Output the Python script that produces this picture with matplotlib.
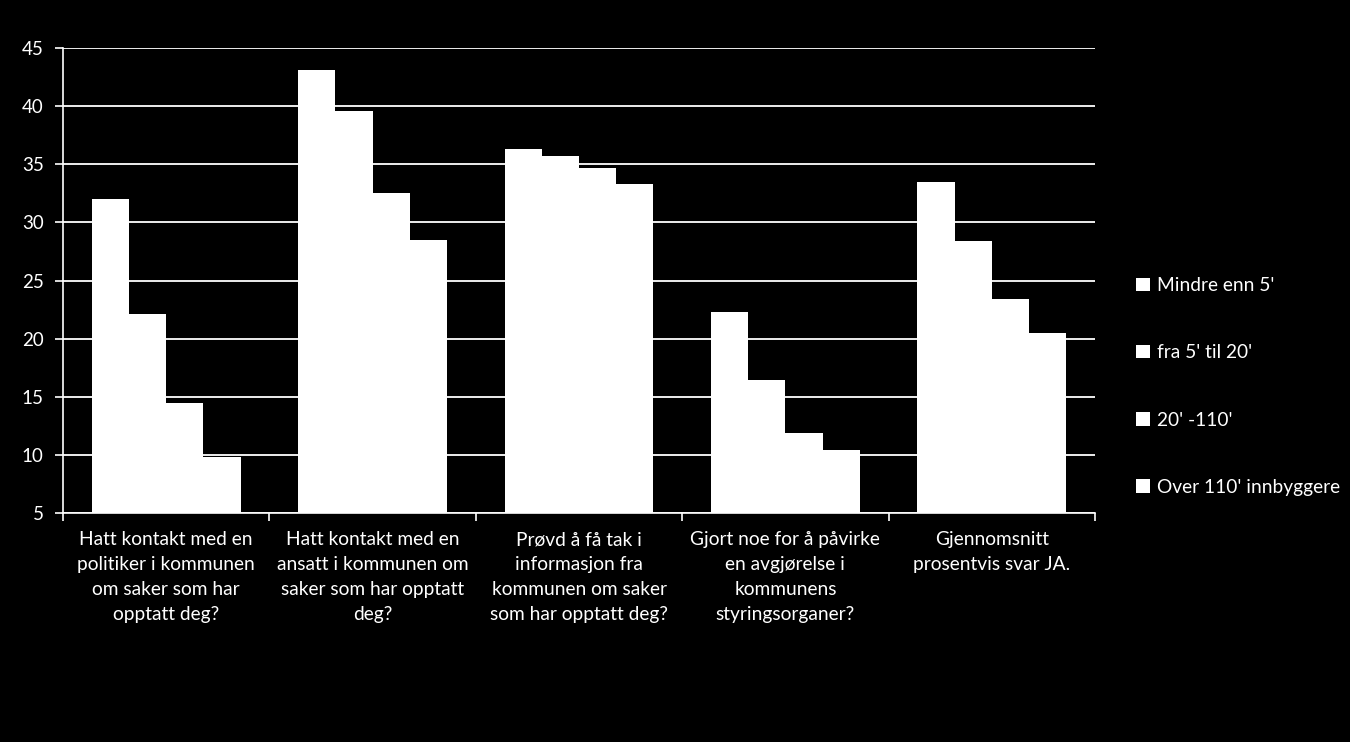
import numpy as np
import matplotlib
matplotlib.use("Agg")
import matplotlib.pyplot as plt
from matplotlib.patches import Patch

# data
categories = [
    "Hatt kontakt med en\npolitiker i kommunen\nom saker som har\nopptatt deg?",
    "Hatt kontakt med en\nansatt i kommunen om\nsaker som har opptatt\ndeg?",
    "Prøvd å få tak i\ninformasjon fra\nkommunen om saker\nsom har opptatt deg?",
    "Gjort noe for å påvirke\nen avgjørelse i\nkommunens\nstyringsorganer?",
    "Gjennomsnitt\nprosentvis svar JA.",
]
series_names = ["Mindre enn 5'", "fra 5' til 20'", "20' -110'", "Over 110' innbyggere"]
mindre_5 = [32.0, 43.1, 36.3, 22.3, 33.5]
fra_5_20 = [22.1, 39.6, 35.7, 16.4, 28.4]
fra_20_110 = [14.5, 32.5, 34.7, 11.9, 23.4]
over_110 = [9.8, 28.5, 33.3, 10.4, 20.5]
yticks = [5, 10, 15, 20, 25, 30, 35, 40, 45]

plt.rcParams['font.family'] = ['Lato', 'DejaVu Sans']

fig = plt.figure(figsize=(13.5, 7.42), dpi=100, facecolor="black")
ax = fig.add_axes([0.0467, 0.3086, 0.7644, 0.6267])
ax.set_facecolor("black")

x = np.arange(len(categories))
w = 0.18
alle = [mindre_5, fra_5_20, fra_20_110, over_110]
for i, vals in enumerate(alle):
    ax.bar(x + (i - 1.5) * w, np.array(vals) - 5, bottom=5, width=w,
           color="white", edgecolor="none", zorder=3)

ax.set_xlim(-0.5, len(categories) - 0.5)
ax.set_ylim(5, 45)
ax.set_yticks(yticks)
ax.yaxis.grid(True, color="white", linewidth=1.3, zorder=0)
ax.set_axisbelow(True)

ax.set_xticks(x)
ax.set_xticklabels(categories, fontsize=13.8, color="white", linespacing=1.58)
ax.set_xticks(np.arange(len(categories) + 1) - 0.5, minor=True)
ax.tick_params(axis="x", which="major", length=0, pad=13)
ax.tick_params(axis="x", which="minor", length=6, color="white", width=1.2)
ax.tick_params(axis="y", length=6, color="white", width=1.2, labelsize=13.5,
               labelcolor="white", pad=8)

for s in ["top", "right"]:
    ax.spines[s].set_visible(False)
for s in ["left", "bottom"]:
    ax.spines[s].set_color("white")
    ax.spines[s].set_linewidth(1.2)

handles = [Patch(facecolor="white", edgecolor="none") for _ in series_names]
leg = fig.legend(handles, series_names, loc="center left",
                 bbox_to_anchor=(0.829, 0.479), frameon=False, fontsize=13.8,
                 labelcolor="white", handlelength=0.7, handleheight=0.7,
                 handletextpad=0.4, labelspacing=2.62)

fig.savefig("out.png", facecolor="black")
